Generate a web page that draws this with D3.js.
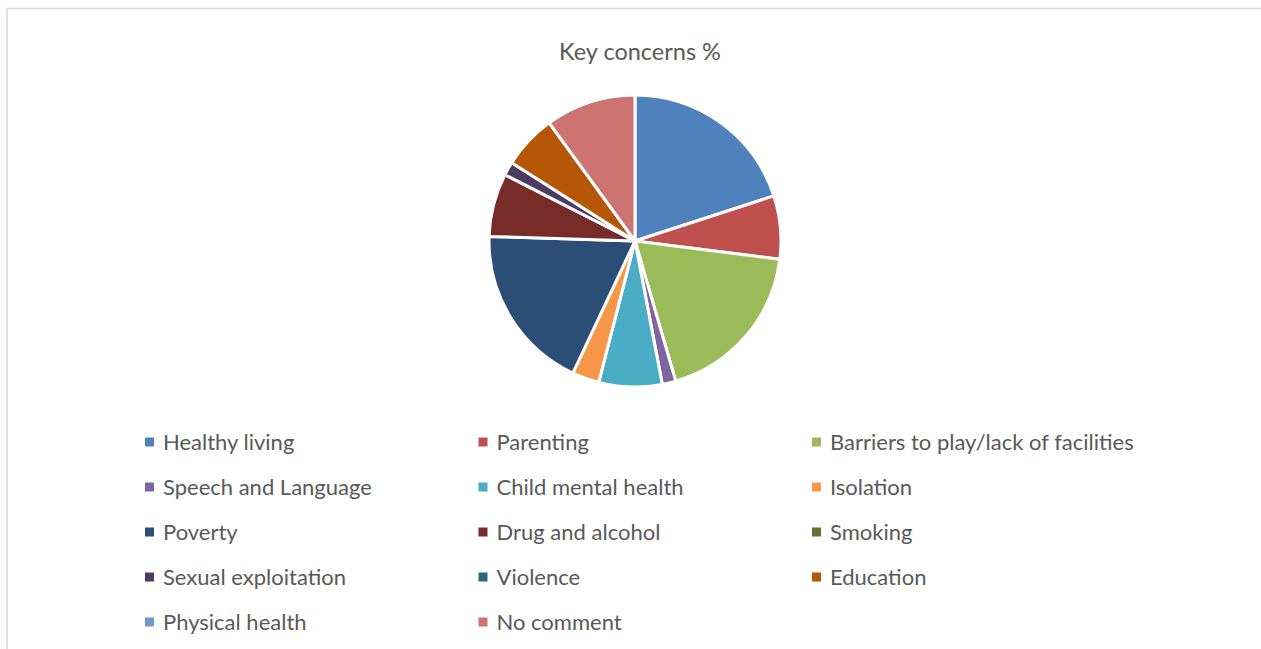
<!DOCTYPE html>
<html>
<head>
<meta charset="utf-8">
<script src="https://cdn.jsdelivr.net/npm/d3@7"></script>
<style>
  html, body { margin: 0; padding: 0; background: #ffffff; }
  svg { display: block; }
  text { font-family: Lato, "Open Sans", sans-serif; fill: #595959; }
</style>
</head>
<body>
<svg id="chart" width="1261" height="649"></svg>
<script>
// Key concerns, percentage of responses
const categories = [
  "Healthy living", "Parenting", "Barriers to play/lack of facilities",
  "Speech and Language", "Child mental health", "Isolation",
  "Poverty", "Drug and alcohol", "Smoking",
  "Sexual exploitation", "Violence", "Education",
  "Physical health", "No comment"
];
const values = [20, 7, 18.5, 1.5, 7, 3, 18.5, 7, 0, 1.5, 0, 6, 0, 10];
const colors = [
  "#4F81BD", "#C0504D", "#9BBB59", "#8064A2", "#4BACC6", "#F79646",
  "#2C4D75", "#772C2A", "#5F7530", "#4D3B62", "#276A7C", "#B65708",
  "#729ACA", "#CD7371"
];
const title = "Key concerns %";

const svg = d3.select("#chart");

// chart frame (top and left edges visible)
svg.append("path")
  .attr("d", "M7,649 V8.5 H1261")
  .attr("fill", "none")
  .attr("stroke", "#d9d9d9")
  .attr("stroke-width", 1.5);

svg.append("text")
  .attr("x", 640)
  .attr("y", 60)
  .attr("text-anchor", "middle")
  .attr("font-size", 23.5)
  .text(title);

const data = categories.map((c, i) => ({ name: c, value: values[i], color: colors[i] }));

const pie = d3.pie().sort(null).value(d => d.value);
const arc = d3.arc().innerRadius(0).outerRadius(146);

svg.append("g")
  .attr("transform", "translate(635,241)")
  .selectAll("path")
  .data(pie(data).filter(d => d.data.value > 0))
  .join("path")
  .attr("d", arc)
  .attr("fill", d => d.data.color)
  .attr("stroke", "#ffffff")
  .attr("stroke-width", 3)
  .attr("stroke-linejoin", "round");

// legend: three columns, five rows
const colX = d3.scalePoint().domain([0, 1, 2]).range([145, 812]);
const rowY = d3.scalePoint().domain([0, 1, 2, 3, 4]).range([442, 622]);

const legend = svg.append("g")
  .selectAll("g")
  .data(data)
  .join("g")
  .attr("transform", (d, i) => `translate(${colX(i % 3)},${rowY(Math.floor(i / 3))})`);

legend.append("rect")
  .attr("x", 0).attr("y", -4.5)
  .attr("width", 9).attr("height", 9)
  .attr("fill", d => d.color);

legend.append("text")
  .attr("x", 18)
  .attr("y", 7.5)
  .attr("font-size", 22)
  .text(d => d.name);
</script>
</body>
</html>
